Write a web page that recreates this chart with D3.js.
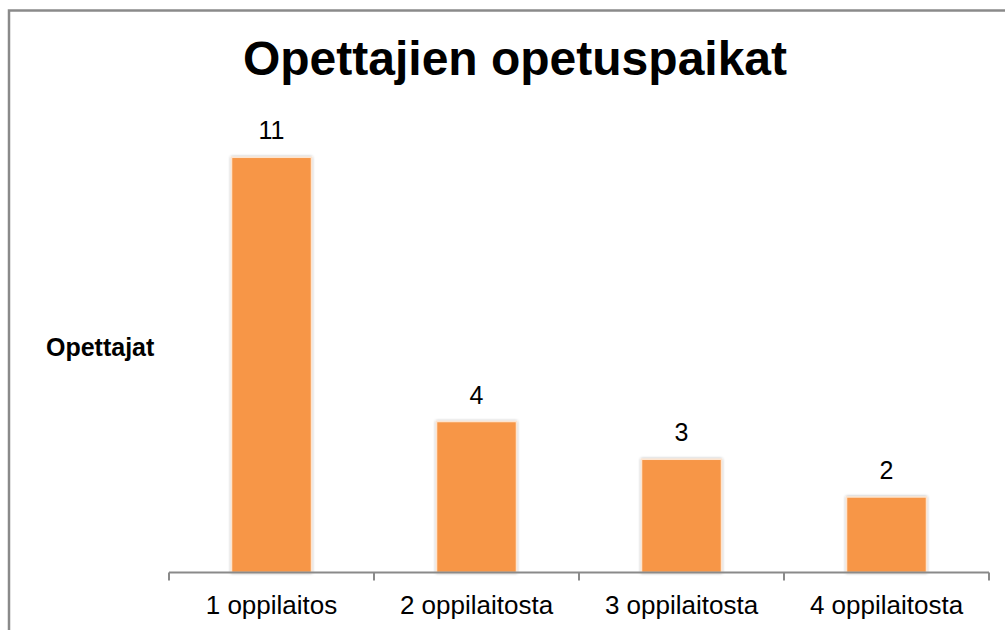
<!DOCTYPE html>
<html><head><meta charset="utf-8">
<script src="https://cdn.jsdelivr.net/npm/d3@7"></script>
<style>html,body{margin:0;padding:0;background:#fff;overflow:hidden}</style>
</head><body>
<script>
const categories = ["1 oppilaitos", "2 oppilaitosta", "3 oppilaitosta", "4 oppilaitosta"];
const values = [11, 4, 3, 2];
const titleText = "Opettajien opetuspaikat";
const yAxisTitle = "Opettajat";

const W = 1005, H = 630;
const svg = d3.select("body").append("svg").attr("width", W).attr("height", H);

const defs = svg.append("defs");
const f = defs.append("filter").attr("id", "sh").attr("x", "-20%").attr("y", "-20%").attr("width", "140%").attr("height", "140%");
f.append("feGaussianBlur").attr("in", "SourceAlpha").attr("stdDeviation", 1.5).attr("result", "b");
f.append("feComponentTransfer").attr("in", "b").attr("result", "b2")
  .append("feFuncA").attr("type", "linear").attr("slope", 0.35);
const m = f.append("feMerge");
m.append("feMergeNode").attr("in", "b2");
m.append("feMergeNode").attr("in", "SourceGraphic");

// outer frame
svg.append("rect").attr("x", 9).attr("y", 10.5).attr("width", 1100).attr("height", 700)
  .attr("fill", "none").attr("stroke", "#8a8a8a").attr("stroke-width", 2.5);

const x0 = 169, x1 = 989, yBase = 572.5, yTop11 = 157.3;
const x = d3.scaleBand().domain(categories).range([x0, x1]).paddingInner(0.61).paddingOuter(0.305);
const y = d3.scaleLinear().domain([0, 11]).range([yBase, yTop11]);

svg.append("text").attr("x", 515).attr("y", 75).attr("text-anchor", "middle")
  .attr("font-family", "Liberation Sans, Arial, sans-serif").attr("font-weight", "bold")
  .attr("font-size", 48).attr("fill", "#000").text(titleText);

svg.append("text").attr("x", 46).attr("y", 356)
  .attr("font-family", "Liberation Sans, Arial, sans-serif").attr("font-weight", "bold")
  .attr("font-size", 25).attr("fill", "#000").text(yAxisTitle);

svg.append("g").selectAll("rect").data(values).join("rect")
  .attr("x", (d, i) => x(categories[i]))
  .attr("y", d => y(d))
  .attr("width", x.bandwidth())
  .attr("height", d => yBase - y(d))
  .attr("fill", "#F79646").attr("stroke", "#fde4cf").attr("stroke-width", 1.5)
  .attr("filter", "url(#sh)");

svg.append("g").selectAll("text").data(values).join("text")
  .attr("x", (d, i) => x(categories[i]) + x.bandwidth() / 2)
  .attr("y", d => y(d) - 18)
  .attr("text-anchor", "middle")
  .attr("font-family", "Liberation Sans, Arial, sans-serif")
  .attr("font-size", 25).attr("fill", "#000").text(d => d);

// axis
const xAxisScale = d3.scaleLinear().domain([0, categories.length]).range([x0, x1]);
const ax = svg.append("g").attr("transform", `translate(0,${yBase})`);
ax.append("line").attr("x1", x0).attr("x2", x1).attr("y1", 0).attr("y2", 0)
  .attr("stroke", "#8a8a8a").attr("stroke-width", 2);
ax.selectAll("line.t").data(d3.range(categories.length + 1)).join("line").attr("class", "t")
  .attr("x1", d => xAxisScale(d)).attr("x2", d => xAxisScale(d))
  .attr("y1", 0).attr("y2", 8).attr("stroke", "#8a8a8a").attr("stroke-width", 2);
ax.selectAll("text").data(categories).join("text")
  .attr("x", d => x(d) + x.bandwidth() / 2).attr("y", 41)
  .attr("text-anchor", "middle")
  .attr("font-family", "Liberation Sans, Arial, sans-serif")
  .attr("font-size", 26).attr("fill", "#000").text(d => d);
</script>
</body></html>
